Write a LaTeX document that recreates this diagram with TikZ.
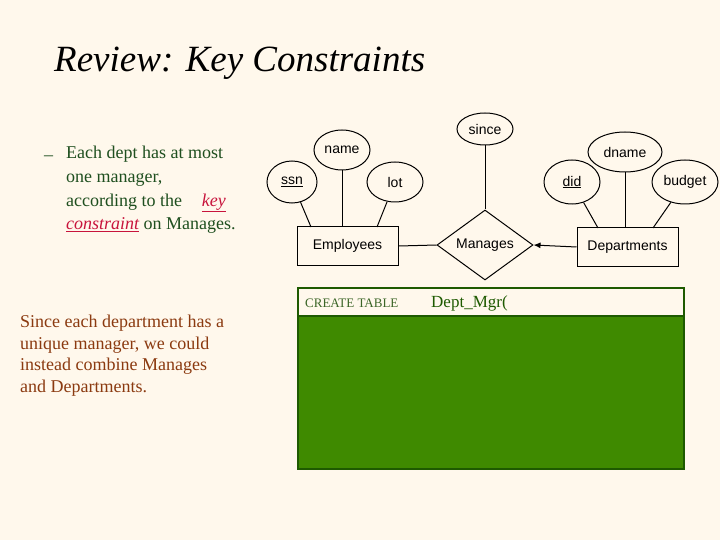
\documentclass[tikz,border=0pt]{standalone}
\usepackage{fontspec}
\setmainfont{Liberation Serif}
\newfontfamily\arial{Liberation Sans}
\usetikzlibrary{shapes.geometric,arrows.meta}
\definecolor{bg}{HTML}{FFF8EC}
\definecolor{dkgreen}{HTML}{1F4F1F}
\definecolor{keyred}{HTML}{C8143C}
\definecolor{brown}{HTML}{8B3A10}
\definecolor{sqlgreen}{HTML}{3F8A00}
\definecolor{sqlborder}{HTML}{1E5A00}
\begin{document}
\begin{tikzpicture}[x=1pt,y=-1pt,
  attr/.style={ellipse,draw,line width=1pt,inner sep=0pt,font=\arial\fontsize{14}{16}\selectfont},
  ent/.style={rectangle,draw,line width=1pt,font=\arial\fontsize{14}{16}\selectfont},
  rel/.style={diamond,draw,line width=1pt,inner sep=0pt,aspect=1.37,minimum width=96pt,minimum height=70pt,font=\arial\fontsize{14}{16}\selectfont},
  conn/.style={line width=1pt}]
\fill[bg] (0,0) rectangle (720,540);
\useasboundingbox (0,0) rectangle (720,540);
\node[anchor=base west,inner sep=0pt,font=\itshape\fontsize{37}{40}\selectfont] (title) at (54,72) {Review: Key Constraints};
% left text
\node[anchor=base west,inner sep=0pt,text=dkgreen,font=\fontsize{18}{22}\selectfont] (dash) at (44,161) {–};
\node[anchor=north west,inner sep=0pt,text=dkgreen,font=\fontsize{18}{23.7}\selectfont,align=left] (t1) at (66,146)
 {Each dept has at most\\one manager,\\according to the\hspace{1.1em}{\color{keyred}\itshape\underline{key}}\\{\color{keyred}\itshape\underline{constraint}} on Manages.};
\node[anchor=north west,inner sep=0pt,text=brown,font=\fontsize{18}{21.6}\selectfont,align=left] (t2) at (20,315)
 {Since each department has a\\unique manager, we could\\instead combine Manages\\and Departments.};
% ER
\node[ent,minimum width=101pt,minimum height=38pt] (emp) at (347.5,246) {Employees};
\node[ent,minimum width=101pt,minimum height=38pt] (dep) at (627.5,247) {Departments};
\node[rel] (man) at (485,245) {Manages};
\node[attr,minimum width=56pt,minimum height=32pt] (since) at (485,129) {since};
\node[attr,minimum width=56pt,minimum height=40pt] (name) at (342,150) {name};
\node[attr,minimum width=50pt,minimum height=42pt] (ssn) at (292,182) {\underline{ssn}};
\node[attr,minimum width=56pt,minimum height=40pt] (lot) at (395,182) {lot};
\node[attr,minimum width=56pt,minimum height=44pt] (did) at (572,182) {\underline{did}};
\node[attr,minimum width=74pt,minimum height=40pt] (dname) at (625,152) {dname};
\node[attr,minimum width=66pt,minimum height=44pt] (budget) at (685,182) {budget};
\draw[conn] (emp.east) -- (man.west);
\draw[conn,-{Latex[length=7pt,width=6pt]}] (dep.west) -- (man.east);
\draw[conn] (since) -- (man.north);
\draw[conn] (name) -- (name|-emp.north);
\draw[conn] (ssn) -- (311,227);
\draw[conn] (lot) -- (377,227);
\draw[conn] (did) -- (598,228);
\draw[conn] (dname) -- (dname|-dep.north);
\draw[conn] (budget) -- (653,228);
% SQL box
\node[draw=sqlborder,line width=1.5pt,fill=bg,minimum width=386pt,minimum height=28pt,anchor=north west,inner sep=0pt] (sqltop) at (297,287) {};
\node[draw=sqlborder,line width=1.5pt,fill=sqlgreen,minimum width=386pt,minimum height=153pt,anchor=north west,inner sep=0pt] (sqlbody) at (297,315) {};
\node[anchor=base west,inner sep=0pt,text=sqlborder!70!gray,font=\fontsize{13}{15}\selectfont] (create) at (305,307) {CREATE TABLE};
\node[anchor=base west,inner sep=0pt,text=sqlborder,font=\fontsize{17}{19}\selectfont] (dm) at (431,307) {Dept\_Mgr(};
\end{tikzpicture}
\end{document}
